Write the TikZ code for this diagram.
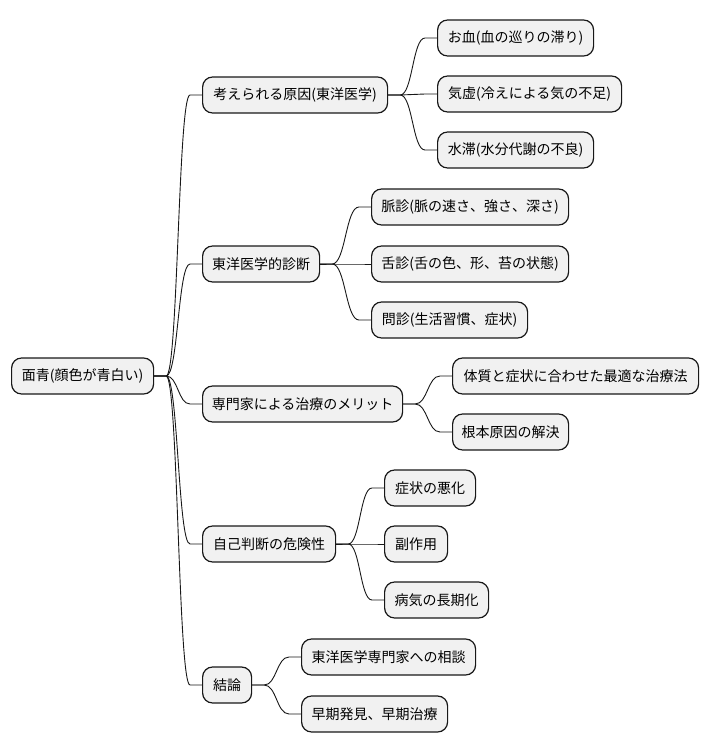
\documentclass[tikz,border=0pt]{standalone}
\usepackage{fontspec}
\setmainfont{Noto Sans CJK JP}
\usetikzlibrary{calc}
\definecolor{nodefill}{HTML}{F1F1F1}
\definecolor{nodeline}{HTML}{181818}
\newcommand\mmlink[2]{%
  \draw[link] let \p1=(#1.east), \p2=(#2.west), \n1={(\x2-\x1-24pt)/2} in
    (\p1) -- ++(12pt,0) .. controls +(\n1,0) and +(-\n1,0) .. ({\x2-12pt},\y2) -- (\p2);}
\begin{document}
\begin{tikzpicture}[x=1pt,y=-1pt,
  mm/.style={draw=nodeline, fill=nodefill, rounded corners=10pt, line width=1.2pt,
    minimum height=36pt, inner sep=0pt, anchor=west,
    font=\fontsize{14}{16}\selectfont},
  link/.style={draw=nodeline, line width=0.9pt}]
\useasboundingbox (0,0) rectangle (709,752);

\node[mm, minimum width=142pt] (root) at (11,376) {面青(顔色が青白い)};

\node[mm, minimum width=185pt] (a) at (202,95) {考えられる原因(東洋医学)};
\node[mm, minimum width=156pt] (a1) at (437,38) {お血(血の巡りの滞り)};
\node[mm, minimum width=184pt] (a2) at (437,94) {気虚(冷えによる気の不足)};
\node[mm, minimum width=156pt] (a3) at (437,150) {水滞(水分代謝の不良)};

\node[mm, minimum width=117pt] (b) at (202,264) {東洋医学的診断};
\node[mm, minimum width=197pt] (b1) at (371,207) {脈診(脈の速さ、強さ、深さ)};
\node[mm, minimum width=197pt] (b2) at (371,264) {舌診(舌の色、形、苔の状態)};
\node[mm, minimum width=156pt] (b3) at (371,320) {問診(生活習慣、症状)};

\node[mm, minimum width=200pt] (c) at (202,404) {専門家による治療のメリット};
\node[mm, minimum width=246pt] (c1) at (452,376) {体質と症状に合わせた最適な治療法};
\node[mm, minimum width=116pt] (c2) at (452,432) {根本原因の解決};

\node[mm, minimum width=133pt] (d) at (202,544) {自己判断の危険性};
\node[mm, minimum width=91pt] (d1) at (384,488) {症状の悪化};
\node[mm, minimum width=63pt] (d2) at (384,544) {副作用};
\node[mm, minimum width=104pt] (d3) at (384,600) {病気の長期化};

\node[mm, minimum width=49pt] (e) at (202,685) {結論};
\node[mm, minimum width=174pt] (e1) at (301,657) {東洋医学専門家への相談};
\node[mm, minimum width=146pt] (e2) at (301,714) {早期発見、早期治療};

\mmlink{root}{a}\mmlink{root}{b}\mmlink{root}{c}\mmlink{root}{d}\mmlink{root}{e}
\mmlink{a}{a1}\mmlink{a}{a2}\mmlink{a}{a3}
\mmlink{b}{b1}\mmlink{b}{b2}\mmlink{b}{b3}
\mmlink{c}{c1}\mmlink{c}{c2}
\mmlink{d}{d1}\mmlink{d}{d2}\mmlink{d}{d3}
\mmlink{e}{e1}\mmlink{e}{e2}
\end{tikzpicture}
\end{document}
